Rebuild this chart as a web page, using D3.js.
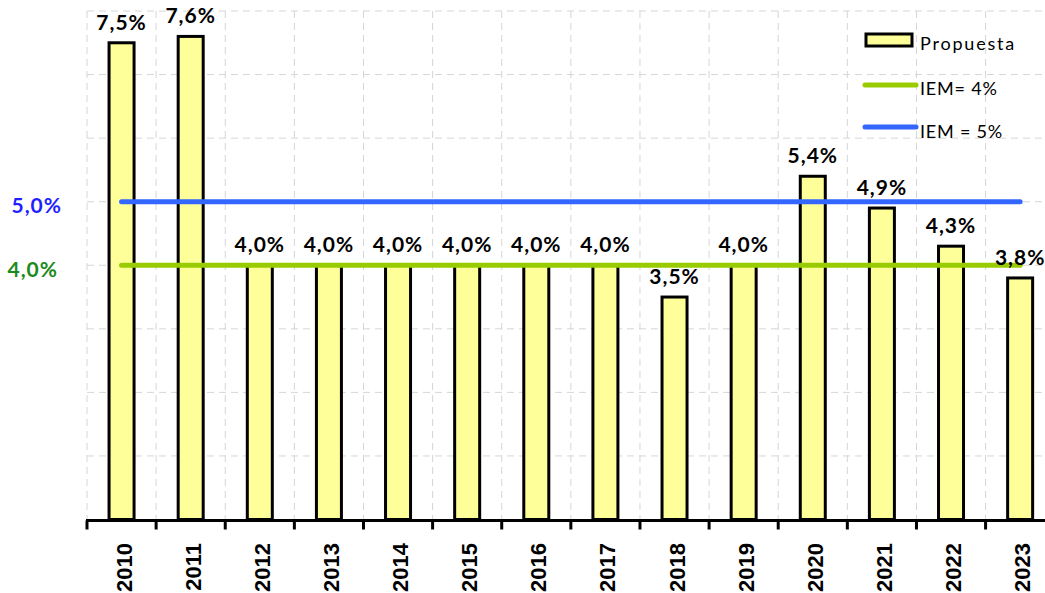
<!DOCTYPE html>
<html><head><meta charset="utf-8">
<script src="https://cdn.jsdelivr.net/npm/d3@7"></script>
<style>body{margin:0;background:#fff}svg{display:block}</style>
</head><body>
<svg id="c" width="1045" height="593"></svg>
<script>
const categories = ["2010","2011","2012","2013","2014","2015","2016","2017","2018","2019","2020","2021","2022","2023"];
const propuesta = [7.5,7.6,4.0,4.0,4.0,4.0,4.0,4.0,3.5,4.0,5.4,4.9,4.3,3.8];
const valueLabels = ["7,5%","7,6%","4,0%","4,0%","4,0%","4,0%","4,0%","4,0%","3,5%","4,0%","5,4%","4,9%","4,3%","3,8%"];
const iem4 = 4.0, iem5 = 5.0;
const yTickValues = [1,2,3,4,5,6,7,8];
const yLabels = [{v:5, text:"5,0%", color:"#1f1fff"},{v:4, text:"4,0%", color:"#1a8a1a"}];
const legendItems = ["Propuesta","IEM= 4%","IEM = 5%"];

const svg = d3.select("#c");
const x0 = 87, x1 = 1054.7, yTop = 11, yBase = 519.5;
const x = d3.scaleBand().domain(categories).range([x0, x1]).paddingInner(0).paddingOuter(0);
const y = d3.scaleLinear().domain([0, 8]).range([yBase, yTop]);
const barW = 25;
const grid = "#d6d6d6";

// horizontal grid
svg.append("g").selectAll("line").data(yTickValues).join("line")
  .attr("x1", x0).attr("x2", 1045).attr("y1", d => y(d)).attr("y2", d => y(d))
  .attr("stroke", grid).attr("stroke-width", 1).attr("stroke-dasharray", "7,5");
// vertical grid
svg.append("g").selectAll("line").data(categories).join("line")
  .attr("x1", d => x(d)).attr("x2", d => x(d)).attr("y1", yTop).attr("y2", yBase)
  .attr("stroke", grid).attr("stroke-width", 1).attr("stroke-dasharray", "7,5");

// bars
svg.append("g").selectAll("rect").data(propuesta).join("rect")
  .attr("x", (d,i) => x(categories[i]) + x.bandwidth()/2 - barW/2)
  .attr("width", barW)
  .attr("y", d => y(d))
  .attr("height", d => yBase - y(d))
  .attr("fill", "#ffff99").attr("stroke", "#000").attr("stroke-width", 3);

// IEM lines
const cx = c => x(c) + x.bandwidth()/2;
[[iem5, "#3366ff"], [iem4, "#99cc00"]].forEach(([v, col]) => {
  svg.append("line")
    .attr("x1", cx(categories[0])).attr("x2", cx(categories[categories.length-1]))
    .attr("y1", y(v)).attr("y2", y(v))
    .attr("stroke", col).attr("stroke-width", 5).attr("stroke-linecap", "round");
});

// value labels
svg.append("g").selectAll("text").data(propuesta).join("text")
  .attr("x", (d,i) => cx(categories[i]))
  .attr("y", d => y(d) - 13)
  .attr("text-anchor", "middle")
  .attr("font-family", "Lato, 'Open Sans', sans-serif").attr("font-weight", "bold").attr("font-size", 21)
  .attr("letter-spacing", 1)
  .attr("fill", "#000")
  .text((d,i) => valueLabels[i]);

// x axis
const xAxis = d3.axisBottom(x).tickSize(0).tickFormat("");
const gx = svg.append("g").attr("transform", `translate(0,${yBase})`).call(xAxis);
gx.select(".domain").remove();
svg.append("line").attr("x1", x0 - 1).attr("x2", 1045).attr("y1", yBase + 1).attr("y2", yBase + 1)
  .attr("stroke", "#000").attr("stroke-width", 3);
svg.append("g").selectAll("line").data(categories).join("line")
  .attr("x1", d => x(d)).attr("x2", d => x(d)).attr("y1", yBase + 1).attr("y2", yBase + 10)
  .attr("stroke", "#000").attr("stroke-width", 3);
svg.append("g").selectAll("text").data(categories).join("text")
  .attr("transform", d => `translate(${cx(d) + 10},543) rotate(-90)`)
  .attr("text-anchor", "end")
  .attr("font-family", "'Liberation Sans', Arial, sans-serif").attr("font-weight", "bold").attr("font-size", 22)
  .text(d => d);

// y labels
svg.append("g").selectAll("text").data(yLabels).join("text")
  .attr("x", d => d.v === 5 ? 62 : 58)
  .attr("y", d => y(d.v) + 11.5)
  .attr("text-anchor", "end")
  .attr("font-family", "Lato, 'Open Sans', sans-serif").attr("font-weight", "bold").attr("font-size", 21)
  .attr("letter-spacing", 1)
  .attr("fill", d => d.color)
  .text(d => d.text);

// legend
const lg = svg.append("g");
lg.append("rect").attr("x", 866).attr("y", 34).attr("width", 46).attr("height", 12)
  .attr("fill", "#ffff99").attr("stroke", "#000").attr("stroke-width", 3);
lg.append("line").attr("x1", 865).attr("x2", 916).attr("y1", 85).attr("y2", 85)
  .attr("stroke", "#99cc00").attr("stroke-width", 5).attr("stroke-linecap", "round");
lg.append("line").attr("x1", 865).attr("x2", 916).attr("y1", 127).attr("y2", 127)
  .attr("stroke", "#3366ff").attr("stroke-width", 5).attr("stroke-linecap", "round");
lg.selectAll("text").data(legendItems).join("text")
  .attr("x", 920).attr("y", (d,i) => [50, 95, 138][i])
  .attr("font-family", "Lato, 'Open Sans', sans-serif").attr("font-size", 18)
  .attr("letter-spacing", (d,i) => i === 0 ? 1.8 : 0.8)
  .attr("fill", "#000")
  .text(d => d);
</script>
</body></html>
